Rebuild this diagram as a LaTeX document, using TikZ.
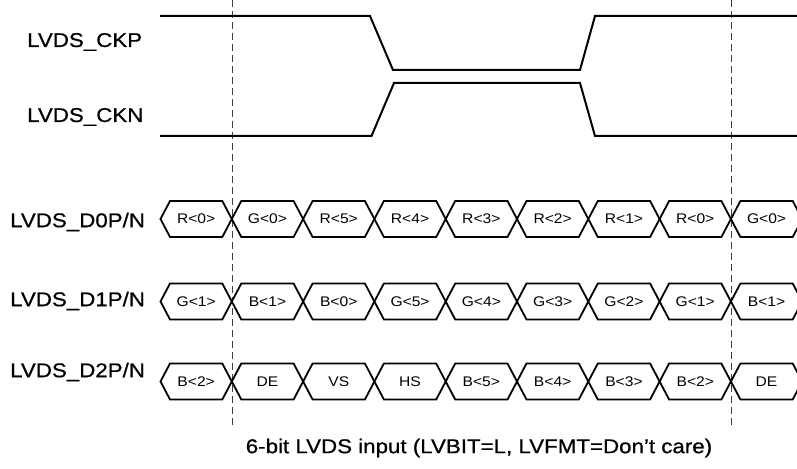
\documentclass[tikz,border=0pt]{standalone}
\usepackage{fontspec}
\newfontfamily\lblfont{Liberation Sans}[FakeStretch=1.12]
\newfontfamily\lblboldfont{Liberation Sans}[FakeStretch=1.12,FakeBold=0.6]
\begin{document}
\begin{tikzpicture}[x=1bp,y=-1bp,
  sig/.style={line width=2bp,line join=miter},
  busline/.style={line width=1.8bp,line join=miter},
  guide/.style={line width=1bp,dash pattern=on 7bp off 4bp,black!75},
  siglabel/.style={anchor=west,inner sep=0pt,font=\lblboldfont\fontsize{20}{24}\selectfont},
  celltext/.style={inner sep=0pt,font=\lblfont\fontsize{14}{16}\selectfont},
  captext/.style={inner sep=0pt,font=\lblboldfont\fontsize{20}{24}\selectfont}]
\useasboundingbox (0,0) rectangle (797,469);
\clip (0,0) rectangle (797,469);
% guide lines
\coordinate (g1t) at (232,0); \coordinate (g1b) at (232,427);
\coordinate (g2t) at (731,0); \coordinate (g2b) at (731,427);
\draw[guide] (g1t) -- (g1b);
\draw[guide] (g2t) -- (g2b);
% labels
\node[siglabel] (lckp) at (27,42) {LVDS\_CKP};
\node[siglabel] (lckn) at (27,117) {LVDS\_CKN};
\node[siglabel] (ld0) at (10,222) {LVDS\_D0P/N};
\node[siglabel] (ld1) at (10,301) {LVDS\_D1P/N};
\node[siglabel] (ld2) at (10,372) {LVDS\_D2P/N};
% clocks
\draw[sig] (160,16) -- (370,16) -- (393,70) -- (580,70) -- (595,16) -- (800,16);
\draw[sig] (160,136) -- (371.5,136) -- (394,83) -- (580,83) -- (595,136) -- (800,136);
% buses
\foreach \yc/\row/\names in {219/a/{R<0>,G<0>,R<5>,R<4>,R<3>,R<2>,R<1>,R<0>,G<0>},
                          301.5/b/{G<1>,B<1>,B<0>,G<5>,G<4>,G<3>,G<2>,G<1>,B<1>},
                          381.5/c/{B<2>,DE,VS,HS,B<5>,B<4>,B<3>,B<2>,DE}}{
  \foreach \t [count=\k from 0] in \names {
    \pgfmathsetmacro{\xa}{160.5+71.3*\k}
    \pgfmathsetmacro{\xb}{\xa+71.3}
    \draw[busline] (\xa,\yc) -- (\xa+9.5,\yc-18) -- (\xb-9.5,\yc-18) -- (\xb,\yc)
       -- (\xb-9.5,\yc+18) -- (\xa+9.5,\yc+18) -- cycle;
    \node[celltext] (\row\k) at (\xa+35.65,\yc) {\t};
  }
}
\node[captext] (cap) at (479,448) {6-bit LVDS input (LVBIT=L, LVFMT=Don’t care)};
\end{tikzpicture}
\end{document}
